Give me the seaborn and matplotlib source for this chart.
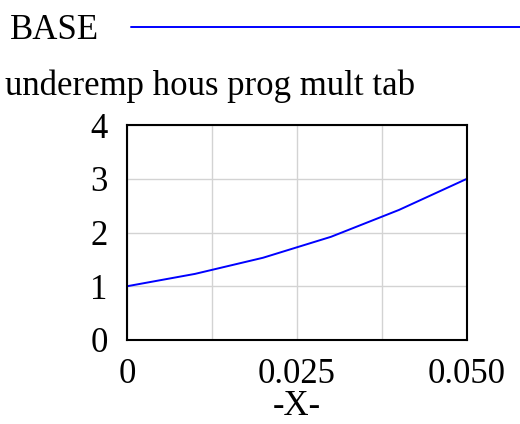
import matplotlib
matplotlib.use("Agg")
import matplotlib.pyplot as plt
import seaborn as sns
import pandas as pd

# Data
x_values = [0.0, 0.01, 0.02, 0.03, 0.04, 0.05]
base_values = [1.0, 1.23, 1.53, 1.92, 2.42, 3.0]
series_name = "BASE"
title_text = "underemp hous prog mult tab"
x_label = "-X-"
x_ticks = [0.0, 0.0125, 0.025, 0.0375, 0.05]
x_tick_labels = ["0", "", "0.025", "", "0.050"]
y_ticks = [0, 1, 2, 3, 4]
y_tick_labels = ["0", "1", "2", "3", "4"]

df = pd.DataFrame({"x": x_values, "y": base_values, "run": series_name})

sns.set_theme(style="white")
plt.rcParams["font.family"] = ["Liberation Serif", "DejaVu Serif"]
plt.rcParams["font.size"] = 25
plt.rcParams["text.color"] = "black"
plt.rcParams["axes.labelcolor"] = "black"
plt.rcParams["xtick.color"] = "black"
plt.rcParams["ytick.color"] = "black"

fig = plt.figure(figsize=(5.2, 4.24), dpi=100)
ax = fig.add_axes([127 / 520, 1 - 340 / 424, 340 / 520, 215 / 424])

sns.lineplot(data=df, x="x", y="y", hue="run", palette=["#0000ff"],
             linewidth=1.4, ax=ax, legend=True)

ax.set_xlim(0, 0.05)
ax.set_ylim(0, 4)
ax.set_xticks(x_ticks)
ax.set_xticklabels(x_tick_labels)
ax.set_yticks(y_ticks)
ax.set_yticklabels(y_tick_labels)
ax.tick_params(axis="both", length=0, labelsize=25, colors="black")
ax.tick_params(axis="y", pad=14)
ax.tick_params(axis="x", pad=13)
ax.grid(True, color="#d3d3d3", linewidth=1.0)
for s in ax.spines.values():
    s.set_visible(True)
    s.set_color("black")
    s.set_linewidth(1.5)
ax.set_ylabel("")
ax.set_xlabel(x_label, fontsize=25, labelpad=-1, color="black")

handles, labels = ax.get_legend_handles_labels()
leg = ax.legend(handles, labels, loc="upper left", bbox_to_anchor=(0.0, 1 - 4 / 424),
                bbox_transform=fig.transFigure, frameon=False,
                markerfirst=False, handlelength=11.3, handletextpad=0.9,
                borderaxespad=0.0, borderpad=0.3, fontsize=25)
for t in leg.get_texts():
    t.set_color("black")
for line in leg.get_lines():
    line.set_linewidth(1.4)

fig.text(5 / 520, 1 - 95 / 424, title_text, fontsize=25, ha="left",
         va="baseline", color="black")

fig.savefig("out.png", dpi=100, facecolor="white")
